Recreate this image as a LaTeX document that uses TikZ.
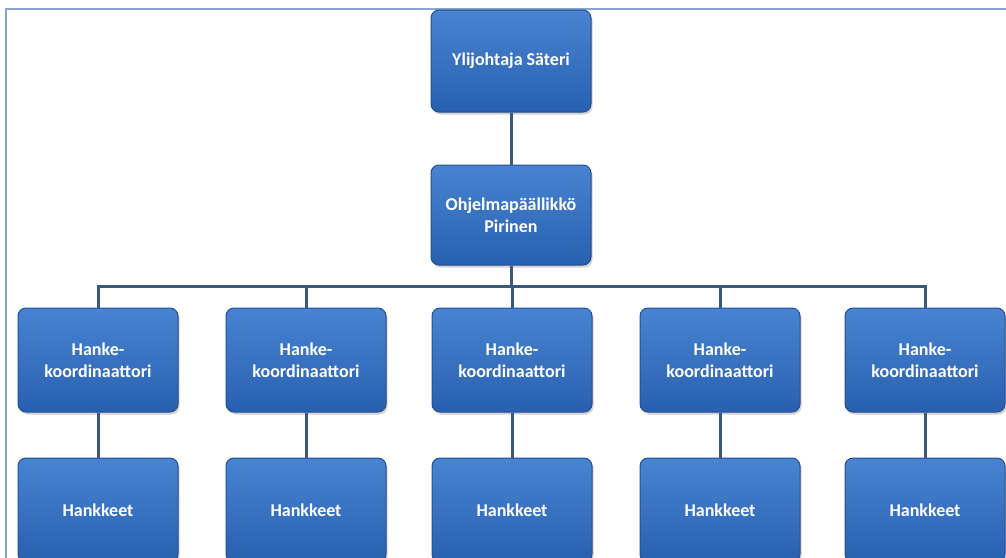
\documentclass[tikz,border=0pt]{standalone}
\usepackage{fontspec}
\setmainfont{Carlito}
\usepackage{tikz}
\usetikzlibrary{shadows}

\definecolor{boxtop}{RGB}{72,132,210}
\definecolor{boxbot}{RGB}{40,96,176}
\definecolor{boxedge}{RGB}{36,78,145}
\definecolor{linkcol}{RGB}{58,88,128}
\definecolor{framecol}{RGB}{135,165,205}

\tikzset{
  orgbox/.style={draw=boxedge, line width=1pt, rounded corners=8pt,
    top color=boxtop, bottom color=boxbot, text=white,
    minimum width=160pt, minimum height=104pt, align=center,
    font=\fontsize{18}{22}\selectfont\bfseries,
    drop shadow={opacity=0.35, shadow xshift=1.5pt, shadow yshift=-2.5pt}},
  link/.style={draw=linkcol, line width=3pt}
}

\begin{document}
\begin{tikzpicture}[x=1pt, y=-1pt]
    \useasboundingbox (0,0) rectangle (1006,557);
    \clip (0,0) rectangle (1006,557);
    \draw[framecol, line width=2pt] (6,570) |- (1010,9);

    \begin{scope}
      \node[orgbox, minimum height=102pt] (chief) at (511,61) {Ylijohtaja Säteri};
      \node[orgbox, minimum height=100pt] (prog) at (511,215) {Ohjelmapäällikkö\\Pirinen};
      \coordinate (bus) at (511,286);
    \end{scope}

    \begin{scope}
      \foreach \i/\x in {1/98, 2/306, 3/512, 4/720, 5/925} {
        \node[orgbox] (coord\i) at (\x,360) {Hanke-\\koordinaattori};
        \node[orgbox] (proj\i) at (\x,510) {Hankkeet};
      }
    \end{scope}

    \begin{scope}
      \path[link] (chief) -- (prog);
      \path[link] (prog) -- (bus);
      \path[link] (coord1.north) |- (bus) -| (coord5.north);
      \foreach \i in {2,3,4}
        \path[link] (coord\i.north) -- (coord\i.north |- bus);
      \foreach \i in {1,...,5}
        \path[link] (coord\i) -- (proj\i);
    \end{scope}
\end{tikzpicture}
\end{document}
